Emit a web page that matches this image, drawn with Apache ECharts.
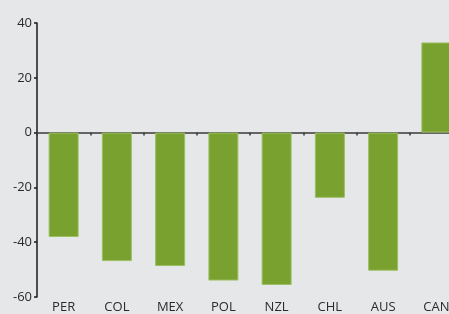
<!DOCTYPE html>
<html>
<head>
<meta charset="utf-8">
<script src="https://cdn.jsdelivr.net/npm/echarts@6/dist/echarts.min.js"></script>
<style>
  html, body { margin: 0; padding: 0; background: #e6e7e9; overflow: hidden; }
  /* the plot runs past the right edge, so the last bar is cut off */
  #chart { width: 463px; height: 314px; }
</style>
</head>
<body>
<div id="chart"></div>
<script>
// data
const countries = ['PER', 'COL', 'MEX', 'POL', 'NZL', 'CHL', 'AUS', 'CAN'];
const values = [-38.1, -46.9, -48.7, -54.0, -55.6, -23.8, -50.4, 32.9];
const yTicks = [-60, -40, -20, 0, 20, 40];

const textColor = '#2b2b2b';
const fontFamily = '"Open Sans", sans-serif';

let myChart = echarts.init(document.getElementById('chart'), null, { renderer: 'canvas' });

let option = {
  backgroundColor: '#e6e7e9',
  animation: false,
  grid: {
    left: 37,
    right: 0,
    top: 23,
    bottom: 17,
    containLabel: false
  },
  xAxis: [
    {
      // zero line with ticks between bars
      type: 'category',
      data: countries,
      position: 'bottom',
      axisLine: { show: true, onZero: true, lineStyle: { color: '#3a3a3a', width: 1.5 } },
      axisTick: { show: true, inside: false, length: 3, lineStyle: { color: '#3a3a3a', width: 1.5 } },
      axisLabel: { show: false },
      splitLine: { show: false }
    },
    {
      // labels at the bottom
      type: 'category',
      data: countries,
      position: 'bottom',
      axisLine: { show: false, onZero: false },
      axisTick: { show: false },
      axisLabel: {
        show: true,
        margin: 4,
        color: textColor,
        fontSize: 13,
        fontFamily: fontFamily
      },
      splitLine: { show: false }
    }
  ],
  yAxis: {
    type: 'value',
    min: yTicks[0],
    max: yTicks[yTicks.length - 1],
    interval: 20,
    axisLine: { show: true, lineStyle: { color: '#1a1a1a', width: 1.5 } },
    axisTick: { show: true, length: 3, lineStyle: { color: '#1a1a1a', width: 1.5 } },
    axisLabel: {
      color: textColor,
      fontSize: 13,
      fontFamily: fontFamily,
      margin: 5
    },
    splitLine: { show: false }
  },
  series: [
    {
      type: 'bar',
      xAxisIndex: 0,
      data: values,
      barWidth: 30,
      itemStyle: {
        color: '#79a12f',
        borderColor: '#9dbf62',
        borderWidth: 1
      }
    }
  ]
};

option && myChart.setOption(option);
</script>
</body>
</html>
